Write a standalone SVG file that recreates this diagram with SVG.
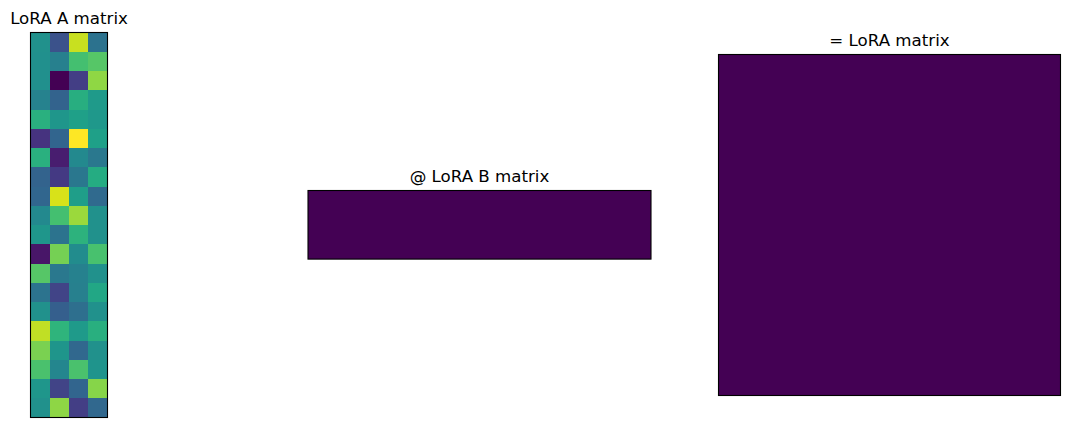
<svg xmlns="http://www.w3.org/2000/svg" width="1070" height="427" viewBox="0 0 1070 427">
<style>
.t{font-family:"DejaVu Sans",sans-serif;font-size:16.67px;fill:#000;text-anchor:middle}
.ax{fill:none;stroke:#000;stroke-width:1.1}
.c rect{width:19.4px;height:19.4px}
</style>
<rect width="1070" height="427" fill="#fff"/>
<g id="lora-a">
<text class="t" x="69" y="24">LoRA A matrix</text>
<g class="c" shape-rendering="crispEdges">
<rect x="30.5" y="32.5" fill="#21918c"/><rect x="49.75" y="32.5" fill="#3b528b"/><rect x="69" y="32.5" fill="#c8e020"/><rect x="88.25" y="32.5" fill="#2c728e"/>
<rect x="30.5" y="51.75" fill="#21908d"/><rect x="49.75" y="51.75" fill="#27808e"/><rect x="69" y="51.75" fill="#44bf70"/><rect x="88.25" y="51.75" fill="#56c667"/>
<rect x="30.5" y="71" fill="#21908d"/><rect x="49.75" y="71" fill="#440154"/><rect x="69" y="71" fill="#433e85"/><rect x="88.25" y="71" fill="#8fd744"/>
<rect x="30.5" y="90.25" fill="#26828e"/><rect x="49.75" y="90.25" fill="#33638d"/><rect x="69" y="90.25" fill="#28ae80"/><rect x="88.25" y="90.25" fill="#1f9a8a"/>
<rect x="30.5" y="109.5" fill="#2ab07f"/><rect x="49.75" y="109.5" fill="#1f968b"/><rect x="69" y="109.5" fill="#1fa088"/><rect x="88.25" y="109.5" fill="#1f988b"/>
<rect x="30.5" y="128.75" fill="#46337f"/><rect x="49.75" y="128.75" fill="#32658e"/><rect x="69" y="128.75" fill="#fde725"/><rect x="88.25" y="128.75" fill="#1fa088"/>
<rect x="30.5" y="148" fill="#2ab07f"/><rect x="49.75" y="148" fill="#481d6f"/><rect x="69" y="148" fill="#23898e"/><rect x="88.25" y="148" fill="#2a788e"/>
<rect x="30.5" y="167.25" fill="#33638d"/><rect x="49.75" y="167.25" fill="#443983"/><rect x="69" y="167.25" fill="#2a778e"/><rect x="88.25" y="167.25" fill="#25ac82"/>
<rect x="30.5" y="186.5" fill="#31668e"/><rect x="49.75" y="186.5" fill="#d8e219"/><rect x="69" y="186.5" fill="#1f9e89"/><rect x="88.25" y="186.5" fill="#306a8e"/>
<rect x="30.5" y="205.75" fill="#23898e"/><rect x="49.75" y="205.75" fill="#44bf70"/><rect x="69" y="205.75" fill="#9bd93c"/><rect x="88.25" y="205.75" fill="#21918c"/>
<rect x="30.5" y="225" fill="#1f968b"/><rect x="49.75" y="225" fill="#2c738e"/><rect x="69" y="225" fill="#2db27d"/><rect x="88.25" y="225" fill="#21918c"/>
<rect x="30.5" y="244.25" fill="#481668"/><rect x="49.75" y="244.25" fill="#75d054"/><rect x="69" y="244.25" fill="#228c8d"/><rect x="88.25" y="244.25" fill="#48c16e"/>
<rect x="30.5" y="263.5" fill="#56c667"/><rect x="49.75" y="263.5" fill="#2a788e"/><rect x="69" y="263.5" fill="#26818e"/><rect x="88.25" y="263.5" fill="#21918c"/>
<rect x="30.5" y="282.75" fill="#2c738e"/><rect x="49.75" y="282.75" fill="#414487"/><rect x="69" y="282.75" fill="#27808e"/><rect x="88.25" y="282.75" fill="#22a785"/>
<rect x="30.5" y="302" fill="#21918c"/><rect x="49.75" y="302" fill="#355f8d"/><rect x="69" y="302" fill="#2e6f8e"/><rect x="88.25" y="302" fill="#21918c"/>
<rect x="30.5" y="321.25" fill="#c0df25"/><rect x="49.75" y="321.25" fill="#2fb47c"/><rect x="69" y="321.25" fill="#1f9a8a"/><rect x="88.25" y="321.25" fill="#29af7f"/>
<rect x="30.5" y="340.5" fill="#7ad151"/><rect x="49.75" y="340.5" fill="#1f958b"/><rect x="69" y="340.5" fill="#31688e"/><rect x="88.25" y="340.5" fill="#21918c"/>
<rect x="30.5" y="359.75" fill="#4ac16d"/><rect x="49.75" y="359.75" fill="#24868e"/><rect x="69" y="359.75" fill="#4ac16d"/><rect x="88.25" y="359.75" fill="#1f948c"/>
<rect x="30.5" y="379" fill="#1f968b"/><rect x="49.75" y="379" fill="#414487"/><rect x="69" y="379" fill="#32658e"/><rect x="88.25" y="379" fill="#86d549"/>
<rect x="30.5" y="398.25" fill="#21918c" height="19.25" style="height:19.25px"/><rect x="49.75" y="398.25" fill="#8ed645" style="height:19.25px"/><rect x="69" y="398.25" fill="#433e85" style="height:19.25px"/><rect x="88.25" y="398.25" fill="#31688e" style="width:19.25px;height:19.25px"/>
</g>
<rect class="ax" x="30.5" y="32.5" width="77" height="385"/>
</g>
<g id="lora-b">
<text class="t" x="479.5" y="182">@ LoRA B matrix</text>
<rect x="308" y="190.5" width="343" height="68.6" fill="#440154"/>
<rect class="ax" x="308" y="190.5" width="343" height="68.6"/>
</g>
<g id="lora-product">
<text class="t" x="889.5" y="46">= LoRA matrix</text>
<rect x="718.5" y="54.5" width="342" height="341" fill="#440154"/>
<rect class="ax" x="718.5" y="54.5" width="342" height="341"/>
</g>
</svg>
